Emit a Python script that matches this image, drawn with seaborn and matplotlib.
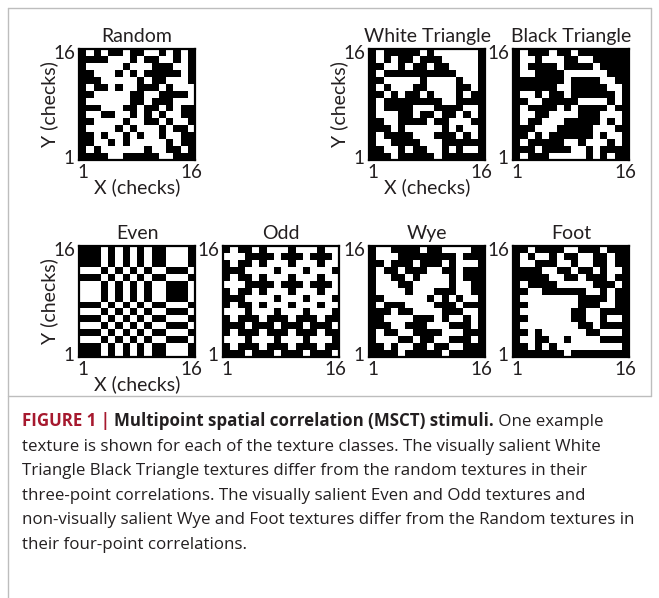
import numpy as np
import matplotlib
matplotlib.use("Agg")
import matplotlib.pyplot as plt
import seaborn as sns
from matplotlib.colors import ListedColormap
from matplotlib.lines import Line2D

# 16x16 binary textures, rows listed from y=16 (top) down to y=1; 1 = black check
random_tex = [
    "1010110110010101",
    "1111000101100101",
    "1000001000111001",
    "1100010101111101",
    "1110000010110001",
    "1011010011101000",
    "1100000110011110",
    "1000000110111000",
    "1110001101101011",
    "1001100101010011",
    "1100001001101001",
    "1000010100010110",
    "1101001010010011",
    "1100101000001011",
    "1010000001001101",
    "1111001111100111",
]
white_tri = [
    "1011111010000001",
    "1010110111000001",
    "1100101101100001",
    "1011111111110001",
    "1100000100001001",
    "1010001100001101",
    "1101011010001011",
    "1011111111001111",
    "1011110001111001",
    "1000110110110101",
    "1100111101100011",
    "1110100000101001",
    "1011110001110101",
    "1001111000111111",
    "1100101100101001",
    "1110111110111111",
]
black_tri = [
    "1011101101111111",
    "1001000110011111",
    "1011110111101111",
    "1001111000000111",
    "1111111011110011",
    "1111110011111001",
    "1001011011111101",
    "1100111110000101",
    "1011110101111011",
    "1001100001110001",
    "1011000111110101",
    "1110001111100011",
    "1101011111101001",
    "1011111001000101",
    "1110111100101111",
    "1011100000101011",
]
even_tex = [
    "1110101010110001",
    "1110101010110001",
    "1110101010110001",
    "0001010101001110",
    "1110101010110001",
    "0001010101001110",
    "0001010101001110",
    "0001010101001110",
    "1110101010110001",
    "0001010101001110",
    "1110101010110001",
    "0001010101001110",
    "1110101010110001",
    "0001010101001110",
    "1110101010110001",
    "1110101010110001",
]
odd_tex = [
    "1011010001000100",
    "0001111011101110",
    "1011010001000100",
    "1110000100010001",
    "1011010001000100",
    "0001111011101110",
    "1011010001000100",
    "1110000100010001",
    "1011010001000100",
    "0001000100010001",
    "1011101110111011",
    "1110111011101110",
    "1011101110111011",
    "0001000100010001",
    "1011101110111011",
    "1110111011101110",
]
wye_tex = [
    "1001111011000011",
    "1000111111110111",
    "1101110111010001",
    "1011011100110111",
    "1001101000010111",
    "1000110000010011",
    "1000010001110011",
    "1100000010101001",
    "1011100001110111",
    "1110110000111001",
    "1100001110100101",
    "1110011100011101",
    "1011001111000111",
    "1000110110011101",
    "1101001101100111",
    "1111011111011111",
]
foot_tex = [
    "1101111001110111",
    "1010010110011011",
    "1001110010011011",
    "1111001101101001",
    "1111100110111011",
    "1011110000011101",
    "1100111111001011",
    "1000000001111011",
    "1100000001110011",
    "1000000011001111",
    "1100000011001001",
    "1000000001101111",
    "1101000000110001",
    "1001100100001111",
    "1101010000000001",
    "1111111011111111",
]

titles = ["Random", "White Triangle", "Black Triangle", "Even", "Odd", "Wye", "Foot"]
textures = [random_tex, white_tri, black_tri, even_tex, odd_tex, wye_tex, foot_tex]
x_tick_labels = ["1", "16"]
y_tick_labels = ["16", "1"]

caption_lines = [
    "texture is shown for each of the texture classes. The visually salient White",
    "Triangle Black Triangle textures differ from the random textures in their",
    "three-point correlations. The visually salient Even and Odd textures and",
    "non-visually salient Wye and Foot textures differ from the Random textures in",
    "their four-point correlations.",
]

sns.set_theme(style="white")
plt.rcParams['font.family'] = ['Lato', 'DejaVu Sans']

W, H = 659, 598
fig = plt.figure(figsize=(W / 100, H / 100), dpi=100)


def px_axes(x0, y0, x1, y1):
    return fig.add_axes([x0 / W, 1 - y1 / H, (x1 - x0) / W, (y1 - y0) / H])


# panel boxes in pixels: (left, top, right, bottom)
boxes = [
    (79, 49, 195, 160),
    (369, 49, 485, 160),
    (513, 49, 629, 160),
    (79, 246, 195, 357),
    (223, 246, 339, 357),
    (369, 246, 485, 357),
    (513, 246, 629, 357),
]
with_labels = {"Random", "White Triangle", "Even"}
cmap = ListedColormap(["white", "black"])
ink = "#231f20"

for title, tex, box in zip(titles, textures, boxes):
    ax = px_axes(*box)
    arr = np.array([[int(ch) for ch in row] for row in tex])
    sns.heatmap(arr, ax=ax, cmap=cmap, vmin=0, vmax=1, cbar=False,
                xticklabels=False, yticklabels=False)
    ax.set_xticks([0.5, 15.5])
    ax.set_xticklabels(x_tick_labels, fontsize=13.5)
    ax.set_yticks([0.5, 15.5])
    ax.set_yticklabels(y_tick_labels, fontsize=13.5, rotation=0)
    ax.tick_params(length=0, pad=3, colors=ink)
    for s in ax.spines.values():
        s.set_visible(True)
        s.set_color("black")
        s.set_linewidth(1.6)
    ax.set_title(title, fontsize=14, pad=5, color=ink)
    if title in with_labels:
        ax.set_xlabel("X (checks)", fontsize=14, labelpad=-2, color=ink)
        ax.set_ylabel("Y (checks)", fontsize=14, labelpad=-4, color=ink)
    else:
        ax.set_xlabel("")
        ax.set_ylabel("")

# frame around the figure panel and the caption rule
frame_col = "#bdbdbd"
fx = lambda x: x / W
fy = lambda y: 1 - y / H
for (xa, ya, xb, yb) in [(8, 8, 651, 8), (651, 8, 651, 396), (8, 396, 651, 396),
                         (8, 8, 8, 598)]:
    fig.add_artist(Line2D([fx(xa), fx(xb)], [fy(ya), fy(yb)], color=frame_col, lw=1.0))

# caption
cap_family = ['Open Sans', 'DejaVu Sans']
renderer = fig.canvas.get_renderer()
cap_size = 12.2
x0 = 22
y_first = 426
pieces = [("FIGURE 1 | ", "bold", "#a6192e"),
          ("Multipoint spatial correlation (MSCT) stimuli.", "bold", ink),
          (" One example", "normal", ink)]
cx = x0
for txt, weight, col in pieces:
    t = fig.text(fx(cx), fy(y_first), txt, fontsize=cap_size, fontweight=weight,
                 color=col, va="baseline", ha="left", family=cap_family)
    bb = t.get_window_extent(renderer)
    cx += bb.width
for i, line in enumerate(caption_lines):
    fig.text(fx(x0), fy(y_first + 24.6 * (i + 1)), line, fontsize=cap_size,
             color=ink, va="baseline", ha="left", family=cap_family)

fig.savefig("out.png", dpi=100)
